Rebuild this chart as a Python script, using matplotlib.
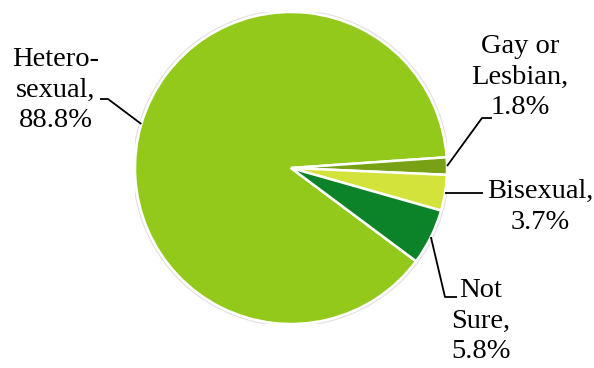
import numpy as np
import matplotlib
matplotlib.use("Agg")
import matplotlib.pyplot as plt
from matplotlib.patches import Circle

# Survey breakdown of sexual orientation (percent)
categories = ["Hetero-\nsexual,", "Gay or\nLesbian,", "Bisexual,", "Not\nSure,"]
values = [88.8, 1.8, 3.7, 5.8]
colors = ["#92c91a", "#78a116", "#d4e33b", "#0c8229"]

W, H = 594, 368
fig = plt.figure(figsize=(W / 100, H / 100), dpi=100)
fig.patch.set_facecolor("white")

# pie placed in a square axes (pixel box: x 135..447, y 12..324 from top)
cx, cy, R = 291, 168, 156
ax = fig.add_axes([(cx - R) / W, (H - cy - R) / H, 2 * R / W, 2 * R / H])
ax.set_xlim(-1, 1)
ax.set_ylim(-1, 1)
ax.set_aspect("equal")
ax.axis("off")

start = -36.7
wedges, _ = ax.pie(values, colors=colors, startangle=start, counterclock=False,
                   radius=1.0, center=(0, 0),
                   wedgeprops=dict(edgecolor="white", linewidth=1.8))
ax.add_patch(Circle((0, 0), 1.012, facecolor="none", edgecolor="#e2e2e2",
                    linewidth=1.0, zorder=0))
ax.set_xlim(-1, 1)
ax.set_ylim(-1, 1)


def px(x, y):
    """pixel position (origin top-left) -> data coordinates of the pie axes"""
    return (x - cx) / R, (cy - y) / R


font = dict(family=["Liberation Serif", "DejaVu Serif"], size=20.5,
            ha="center", va="center", linespacing=1.28)

# label text centres (pixels) and leader elbow / end points
text_pos = [(56, 90), (520, 77), (540, 207), (481, 321)]
elbows = [[(108, 99), (100, 99)],
          [(482, 118), (492, 118)],
          [(483, None)],
          [(445, 297), (457, 297)]]

for w, v, lab, tp, el in zip(wedges, values, categories, text_pos, elbows):
    mid = np.deg2rad((w.theta1 + w.theta2) / 2)
    ax_, ay_ = np.cos(mid), np.sin(mid)
    pts = [(ax_, ay_)]
    for ex, ey in el:
        dx, dy = px(ex, ey if ey is not None else 0)
        if ey is None:
            dy = ay_
        pts.append((dx, dy))
    xs, ys = zip(*pts)
    ax.plot(xs, ys, color="black", lw=1.3, clip_on=False, solid_capstyle="butt")
    fig.text(tp[0] / W, 1 - tp[1] / H, f"{lab}\n{v:.1f}%", **font)

fig.savefig("out.png", dpi=100, facecolor="white")
